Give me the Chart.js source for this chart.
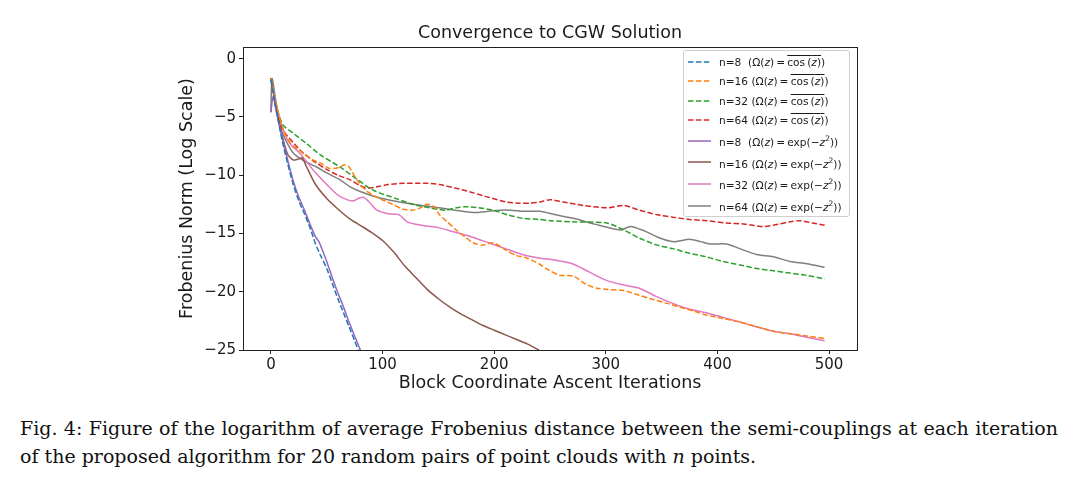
<!DOCTYPE html>
<html>
<head>
<meta charset="utf-8">
<script src="https://cdn.jsdelivr.net/npm/chart.js@4.4.1/dist/chart.umd.min.js"></script>
<style>
  html, body { margin:0; padding:0; background:#fff; }
  #wrap { position:relative; width:1080px; height:485px; overflow:hidden; }
  #chartBox { position:absolute; left:0; top:0; width:1080px; height:400px; }
  #legend { position:absolute; left:683px; top:50px; width:167px; height:167px; box-sizing:border-box;
            border:1px solid #cfcfcf; border-radius:3px; background:rgba(255,255,255,0.85);
            font-family:"DejaVu Sans", sans-serif; font-size:10.6px; color:#1a1a1a; padding-top:1px; }
  .lrow { display:flex; align-items:center; white-space:nowrap; }
  .lrow svg { margin-left:4px; margin-right:8px; flex:none; }
  .ov { text-decoration:overline; }
  #caption { position:absolute; left:20px; top:414px; width:1038px; font-family:"DejaVu Serif",serif;
             font-size:19px; line-height:28px; color:#111; }
  #caption .l1 { text-align:justify; text-align-last:justify; white-space:normal; }
  #caption .l2 { text-align:left; white-space:nowrap; }
</style>
</head>
<body>
<div id="wrap">
  <div id="chartBox"><canvas id="c" width="1080" height="400"></canvas></div>
  <div id="legend"></div>
  <div id="caption"><div class="l1">Fig. 4: Figure of the logarithm of average Frobenius distance between the semi-couplings at each iteration</div><div class="l2">of the proposed algorithm for 20 random pairs of point clouds with <i>n</i> points.</div></div>
</div>
<script>
// ---------- data ----------
const xTicks = [0, 100, 200, 300, 400, 500];
const yTicks = [0, -5, -10, -15, -20, -25];

const seriesN    = [8, 16, 32, 64, 8, 16, 32, 64];
const seriesKind = ['cos', 'cos', 'cos', 'cos', 'exp', 'exp', 'exp', 'exp'];

const cos8X  = [0,3,6,10,15,20,25,30,35,40,45,50,55,60,65,70,75,79];
const cos8Y  = [-1.8,-3.5,-5.0,-7.0,-9.0,-10.8,-12.2,-13.3,-14.5,-15.9,-17.0,-18.0,-19.3,-20.6,-21.8,-23.0,-24.2,-25.2];

const cos16X = [0,5,10,15,20,25,30,38,45,52,58,62,66,70,77,85,95,109,118,127,134,140,146,151,158,166,174,181,190,199,210,220,229,240,250,259,266,272,283,292,301,316,330,340,355,369,380,390,405,420,435,450,465,480,496];
const cos16Y = [-1.7,-4.0,-5.8,-6.9,-7.5,-7.8,-8.2,-8.7,-9.0,-9.4,-9.4,-9.3,-9.1,-9.3,-10.4,-11.3,-11.9,-12.5,-12.9,-13.0,-12.8,-12.5,-12.7,-13.4,-14.0,-14.7,-15.3,-15.8,-16.0,-15.8,-16.4,-16.9,-17.1,-17.6,-18.2,-18.6,-18.6,-18.7,-19.4,-19.7,-19.8,-19.9,-20.3,-20.6,-21.0,-21.4,-21.7,-22.0,-22.3,-22.6,-23.0,-23.4,-23.6,-23.8,-24.0];

const cos32X = [0,5,11,20,32,45,62,75,92,112,127,142,157,166,175,186,199,212,226,240,250,270,301,316,330,346,360,375,390,405,420,435,450,465,480,496];
const cos32Y = [-1.7,-4.2,-5.7,-6.4,-7.3,-8.3,-9.3,-10.2,-11.3,-12.0,-12.5,-12.8,-13.0,-12.8,-12.7,-12.8,-13.0,-13.4,-13.7,-13.8,-13.9,-14.0,-14.1,-14.7,-15.4,-16.0,-16.3,-16.7,-17.0,-17.4,-17.7,-18.0,-18.2,-18.4,-18.6,-18.9];

const cos64X = [0,5,10,20,29,40,50,60,71,80,86,95,105,118,130,140,151,165,181,195,211,222,232,241,250,262,280,301,316,330,346,360,375,390,408,425,441,455,465,474,485,496];
const cos64Y = [-1.7,-4.3,-6.0,-7.2,-8.1,-8.9,-9.5,-10.0,-10.4,-10.9,-11.1,-11.0,-10.8,-10.7,-10.7,-10.7,-10.8,-11.1,-11.5,-11.9,-12.3,-12.4,-12.4,-12.3,-12.1,-12.3,-12.6,-12.8,-12.6,-13.0,-13.4,-13.6,-13.8,-13.9,-14.1,-14.2,-14.4,-14.2,-14.0,-13.9,-14.1,-14.3];

const exp8X  = [0,2,5,10,15,20,25,30,35,40,43,46,50,55,60,65,70,75,81];
const exp8Y  = [-4.6,-3.2,-4.6,-6.7,-8.7,-10.5,-11.9,-13.0,-14.2,-15.3,-15.7,-16.4,-17.4,-18.8,-20.1,-21.3,-22.6,-23.8,-25.2];

const exp16X = [0,5,10,15,20,25,28,32,40,50,60,70,80,90,100,110,120,130,140,150,160,170,180,190,200,210,220,230,240];
const exp16Y = [-1.7,-4.5,-6.6,-8.2,-8.7,-8.6,-8.5,-9.3,-10.8,-12.0,-12.9,-13.7,-14.3,-14.9,-15.6,-16.6,-17.8,-18.8,-19.8,-20.6,-21.3,-21.9,-22.4,-22.9,-23.3,-23.7,-24.1,-24.5,-25.0];

const exp32X = [0,5,10,15,20,25,30,35,40,50,60,68,74,78,83,88,95,105,115,122,135,150,165,180,195,210,225,240,255,270,285,300,315,330,345,360,375,390,405,420,435,450,465,480,496];
const exp32Y = [-1.7,-4.0,-5.8,-7.0,-7.6,-8.0,-8.6,-9.2,-9.8,-10.8,-11.7,-12.1,-12.2,-12.0,-11.9,-12.3,-13.0,-13.3,-13.4,-14.0,-14.3,-14.5,-14.9,-15.3,-15.8,-16.3,-16.8,-17.1,-17.3,-17.6,-18.3,-19.0,-19.4,-19.7,-20.4,-21.0,-21.5,-21.8,-22.2,-22.6,-23.0,-23.4,-23.6,-23.9,-24.2];

const exp64X = [0,1,5,10,20,30,41,50,62,71,80,92,105,122,135,151,165,181,195,205,215,226,241,255,271,290,313,322,335,346,360,375,385,393,408,420,435,450,465,480,496];
const exp64Y = [-4.6,-1.7,-4.0,-6.3,-8.1,-8.8,-9.3,-9.8,-10.4,-11.0,-11.4,-11.8,-12.1,-12.4,-12.6,-12.8,-13.0,-13.2,-13.1,-13.0,-13.0,-13.1,-13.1,-13.4,-13.7,-14.2,-14.7,-14.4,-14.8,-15.3,-15.7,-15.5,-15.7,-15.9,-15.9,-16.3,-16.8,-17.0,-17.4,-17.6,-17.9];

const seriesX = [cos8X, cos16X, cos32X, cos64X, exp8X, exp16X, exp32X, exp64X];
const seriesY = [cos8Y, cos16Y, cos32Y, cos64Y, exp8Y, exp16Y, exp32Y, exp64Y];
const colors  = ['#1f77b4','#ff7f0e','#2ca02c','#d62728','#9467bd','#8c564b','#e377c2','#7f7f7f'];

// ---------- build ----------
const TXT = '#1a1a1a';
const DASH = [5.5, 2.4];
const datasets = seriesX.map((xs, i) => ({
  label: 'n=' + seriesN[i],
  data: xs.map((x, j) => ({x: x, y: seriesY[i][j]})),
  borderColor: colors[i],
  backgroundColor: colors[i],
  borderWidth: 1.5,
  borderDash: seriesKind[i] === 'cos' ? DASH : [],
  pointRadius: 0,
  tension: 0.25,
  fill: false
}));

const framePlugin = {
  id: 'frame',
  afterDatasetsDraw(chart) {
    const a = chart.chartArea, ctx = chart.ctx;
    ctx.save();
    ctx.strokeStyle = '#222';
    ctx.lineWidth = 1;
    ctx.strokeRect(Math.round(a.left) + 0.5, Math.round(a.top) + 0.5, Math.round(a.right - a.left), Math.round(a.bottom - a.top));
    ctx.restore();
  }
};

const fmt = v => (v < 0 ? '\u2212' + Math.abs(v) : String(v));

new Chart(document.getElementById('c'), {
  type: 'line',
  data: { datasets },
  options: {
    responsive: false,
    animation: false,
    layout: { padding: { left: 174, right: 223, top: 19, bottom: 6 } },
    plugins: {
      legend: { display: false },
      tooltip: { enabled: false },
      title: { display: true, text: 'Convergence to CGW Solution', fullSize: false,
               color: TXT, font: { family: 'DejaVu Sans', size: 17.5, weight: 'normal' },
               padding: { top: 4, bottom: 3 } }
    },
    scales: {
      x: {
        type: 'linear', min: -25, max: 525,
        afterBuildTicks: s => { s.ticks = xTicks.map(v => ({value: v})); },
        afterFit: s => { s.height = 44; },
        grid: { display: true, drawOnChartArea: false, drawTicks: true, tickLength: 4, tickColor: '#222', tickWidth: 1 },
        border: { display: true, color: '#222', width: 1 },
        ticks: { color: TXT, font: { family: 'DejaVu Sans', size: 15 }, padding: 2, maxRotation: 0, callback: v => fmt(v) },
        title: { display: true, text: 'Block Coordinate Ascent Iterations', color: TXT,
                 font: { family: 'DejaVu Sans', size: 17.5 }, padding: { top: 0, bottom: 0 } }
      },
      y: {
        type: 'linear', min: -25, max: 1,
        afterBuildTicks: s => { s.ticks = yTicks.map(v => ({value: v})); },
        afterFit: s => { s.width = 69; },
        grid: { display: true, drawOnChartArea: false, drawTicks: true, tickLength: 4, tickColor: '#222', tickWidth: 1 },
        border: { display: true, color: '#222', width: 1 },
        ticks: { color: TXT, font: { family: 'DejaVu Sans', size: 15 }, padding: 3, callback: v => fmt(v) },
        title: { display: true, text: 'Frobenius Norm (Log Scale)', color: TXT,
                 font: { family: 'DejaVu Sans', size: 17.5 }, padding: { top: 3, bottom: 0 } }
      }
    }
  },
  plugins: [framePlugin]
});

// ---------- legend (HTML, for the math notation) ----------
const legend = document.getElementById('legend');
seriesN.forEach((n, i) => {
  const row = document.createElement('div');
  row.className = 'lrow';
  row.style.height = seriesKind[i] === 'cos' ? '19.5px' : '21.6px';
  const dash = seriesKind[i] === 'cos' ? 'stroke-dasharray="5.5 2.4"' : '';
  const nTxt = 'n=' + n + (n < 10 ? '&nbsp;&nbsp;' : '&nbsp;');
  const f = seriesKind[i] === 'cos'
    ? '(&Omega;(<i>z</i>)&thinsp;=&thinsp;<span class="ov">cos&thinsp;(<i>z</i>)</span>)'
    : '(&Omega;(<i>z</i>)&thinsp;=&thinsp;exp(&minus;<i>z</i><sup style="font-size:7.5px">2</sup>))';
  row.innerHTML = '<svg width="23" height="4"><line x1="0" y1="2" x2="23" y2="2" stroke="' + colors[i] +
    '" stroke-width="1.5" ' + dash + '/></svg><span>' + nTxt + f + '</span>';
  legend.appendChild(row);
});
</script>
</body>
</html>
